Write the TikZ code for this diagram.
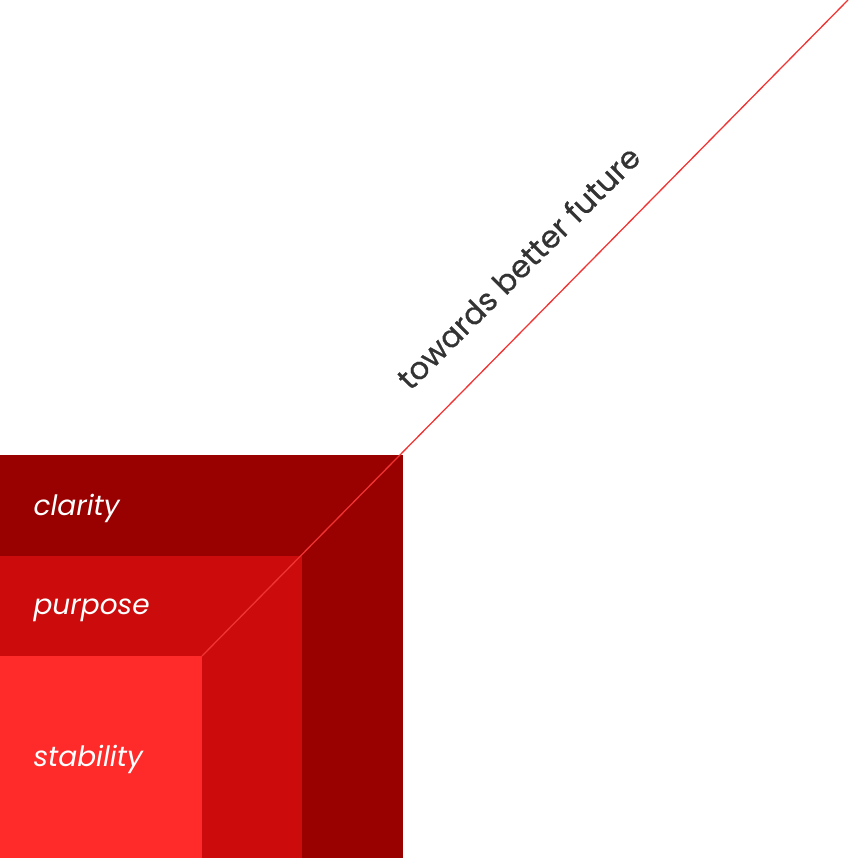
\documentclass[tikz,border=0pt]{standalone}
\usepackage{fontspec}
\setmainfont{Poppins}
\newfontfamily\headfont[FakeBold=0.6]{Poppins}
\usetikzlibrary{positioning}
\definecolor{outerred}{HTML}{990000}
\definecolor{midred}{HTML}{CC0C0C}
\definecolor{innerred}{HTML}{FF2A2A}
\definecolor{linered}{HTML}{F03434}
\definecolor{inkgray}{HTML}{333333}

\begin{document}
\begin{tikzpicture}[
    x=1pt, y=-1pt,
    layer/.style={rectangle, inner sep=0pt, outer sep=0pt, anchor=south west},
    tag/.style={anchor=west, text=white, font=\fontsize{28}{32}\selectfont\itshape},
    path/.style={draw=linered, line width=1.3pt}
]
\useasboundingbox (0,0) rectangle (849,859);

% Nested squares
\node[layer, fill=outerred, minimum width=403pt, minimum height=403pt] (outer) at (0,858) {};
\node[layer, fill=midred, minimum width=302pt, minimum height=302pt] (middle) at (0,858) {};
\node[layer, fill=innerred, minimum width=202pt, minimum height=202pt] (inner) at (0,858) {};

% Labels
\node[tag] (clarity) at (30,508) {clarity};
\node[tag] (purpose) at (30,610) {purpose};
\node[tag] (stability) at (30,759) {stability};

% Direction line
\coordinate (horizon) at (848,0);
\draw[path] (inner.north east) -- (horizon);
\node[anchor=base west, rotate=45, text=inkgray, font=\headfont\fontsize{31}{36}\selectfont] (future) at (408,394) {towards better future};

\end{tikzpicture}
\end{document}
